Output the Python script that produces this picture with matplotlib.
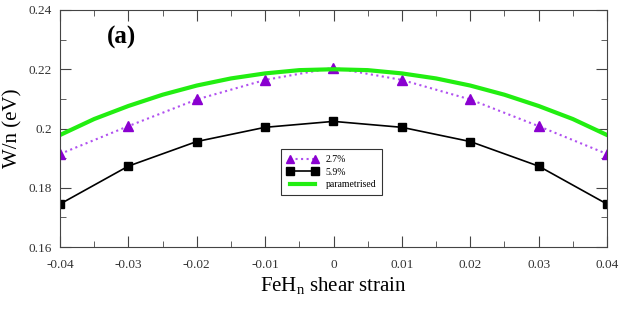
import matplotlib.pyplot as plt
import numpy as np

plt.rcParams['font.family'] = ['Liberation Serif', 'DejaVu Serif']
plt.rcParams['mathtext.fontset'] = 'custom'
plt.rcParams['mathtext.rm'] = 'Liberation Serif'

strain = [-0.04, -0.03, -0.02, -0.01, 0.0, 0.01, 0.02, 0.03, 0.04]
w_27 = [0.1914, 0.2008, 0.2098, 0.2164, 0.2205, 0.2164, 0.2098, 0.2008, 0.1914]
w_59 = [0.1745, 0.1873, 0.1956, 0.2004, 0.2024, 0.2004, 0.1956, 0.1873, 0.1745]

strain_fit = [-0.04, -0.035, -0.03, -0.025, -0.02, -0.015, -0.01, -0.005, 0.0,
              0.005, 0.01, 0.015, 0.02, 0.025, 0.03, 0.035, 0.04]
w_fit = [0.1978, 0.2032, 0.2076, 0.2114, 0.2145, 0.2169, 0.2186, 0.2197, 0.2200,
         0.2197, 0.2186, 0.2169, 0.2145, 0.2114, 0.2076, 0.2032, 0.1978]

fig = plt.figure(figsize=(6.23, 3.10), dpi=100)
ax = fig.add_axes([60 / 623, 63 / 310, 547 / 623, 237 / 310])

ax.plot(strain, w_27, ':', color='#b050f0', lw=1.5, marker='^', ms=7,
        mfc='#8a00d0', mec='#8a00d0', label='2.7%')
ax.plot(strain, w_59, '-', color='black', lw=1.2, marker='s', ms=6,
        mfc='black', label='5.9%')
ax.plot(strain_fit, w_fit, '-', color='#22ee11', lw=3, label='parametrised')

ax.set_xlim(-0.04, 0.04)
ax.set_ylim(0.16, 0.24)
ax.set_xticks(np.arange(-0.04, 0.0401, 0.01))
ax.set_xticklabels(['-0.04', '-0.03', '-0.02', '-0.01', '0', '0.01', '0.02', '0.03', '0.04'])
ax.set_yticks([0.16, 0.18, 0.2, 0.22, 0.24])
ax.set_yticklabels(['0.16', '0.18', '0.2', '0.22', '0.24'])
ax.set_xticks(np.arange(-0.035, 0.04, 0.01), minor=True)
ax.set_yticks([0.17, 0.19, 0.21, 0.23], minor=True)
ax.tick_params(which='both', direction='in', top=True, right=True, labelsize=9.5,
               color='#444444', labelcolor='#333333')
ax.tick_params(axis='x', pad=9)
ax.tick_params(axis='y', pad=6)
ax.tick_params(which='major', length=8)
ax.tick_params(which='minor', length=4)
for s in ax.spines.values():
    s.set_color('#444444')

ax.set_xlabel('FeH$_\\mathregular{n}$ shear strain', fontsize=15, labelpad=3)
ax.set_ylabel('W/n (eV)', fontsize=15, labelpad=4)
ax.text(0.085, 0.86, '(a)', transform=ax.transAxes, fontsize=18, fontweight='bold')

leg = ax.legend(loc='lower left', bbox_to_anchor=(0.395, 0.2), fontsize=7,
                frameon=True, fancybox=False, edgecolor='black', borderpad=0.6,
                handlelength=3.2, labelspacing=0.35, numpoints=2, markerscale=0.85)
leg.get_frame().set_linewidth(0.8)

fig.savefig('out.png', dpi=100)
